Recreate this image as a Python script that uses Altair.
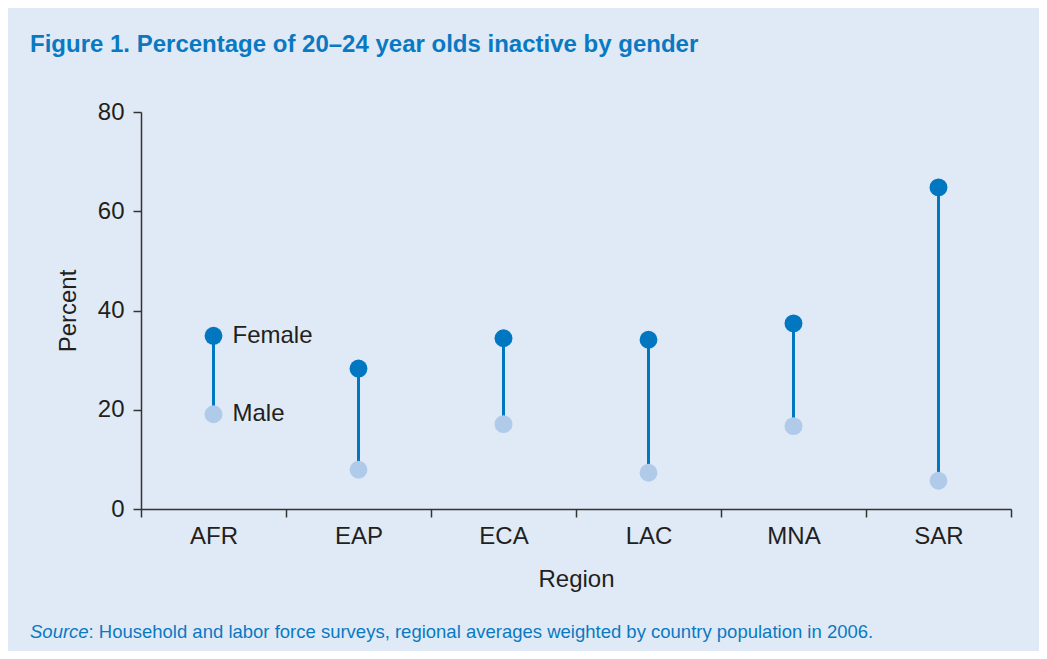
import altair as alt
import pandas as pd

regions = ["AFR", "EAP", "ECA", "LAC", "MNA", "SAR"]
female = [34.9, 28.3, 34.4, 34.1, 37.4, 64.8]
male = [19.1, 7.9, 17.1, 7.3, 16.7, 5.7]
y_ticks = [0, 20, 40, 60, 80]

title_text = "Figure 1. Percentage of 20\u201324 year olds inactive by gender"
source_label = "Source"
source_text = ": Household and labor force surveys, regional averages weighted by country population in 2006."

FONT = "Liberation Sans"
BLUE = "#0a79c2"
FEMALE_C = "#0077c0"
MALE_C = "#b0caea"
AXIS_C = "#333333"
TEXT_C = "#231f20"
BG = "#e0eaf6"
FS = 24

wide = pd.DataFrame({"Region": regions, "Female": female, "Male": male})
long = wide.melt(id_vars="Region", var_name="Gender", value_name="Percent")

x_enc = alt.X(
    "Region:N",
    sort=regions,
    scale=alt.Scale(paddingInner=0, paddingOuter=0),
    axis=alt.Axis(
        title="Region",
        tickBand="extent",
        labelAngle=0,
        tickSize=8,
        labelPadding=7,
        titlePadding=19,
        labelFontSize=FS,
        titleFontSize=FS,
        titleFontWeight="normal",
        labelFont=FONT,
        titleFont=FONT,
        labelColor=TEXT_C,
        titleColor=TEXT_C,
        domainColor=AXIS_C,
        tickColor=AXIS_C,
        domainWidth=1.5,
        tickWidth=1.5,
        grid=False,
    ),
)

y_axis = alt.Axis(
    title="Percent",
    values=y_ticks,
    tickSize=8,
    labelPadding=9,
    titlePadding=17,
    labelFontSize=FS,
    titleFontSize=FS,
    titleFontWeight="normal",
    labelFont=FONT,
    titleFont=FONT,
    labelColor=TEXT_C,
    titleColor=TEXT_C,
    domainColor=AXIS_C,
    tickColor=AXIS_C,
    domainWidth=1.5,
    tickWidth=1.5,
    grid=False,
)
y_scale = alt.Scale(domain=[0, 80], nice=False)

rules = alt.Chart(wide).mark_rule(color=FEMALE_C, strokeWidth=3).encode(
    x=x_enc,
    y=alt.Y("Male:Q", scale=y_scale, axis=y_axis, title="Percent"),
    y2="Female:Q",
)

points = alt.Chart(long).mark_circle(size=320, opacity=1).encode(
    x=x_enc,
    y=alt.Y("Percent:Q", scale=y_scale, axis=y_axis, title="Percent"),
    color=alt.Color(
        "Gender:N",
        scale=alt.Scale(domain=["Female", "Male"], range=[FEMALE_C, MALE_C]),
        legend=None,
    ),
)

labels = (
    alt.Chart(long)
    .transform_filter(alt.datum.Region == "AFR")
    .mark_text(align="left", baseline="middle", dx=19, fontSize=FS, font=FONT, color=TEXT_C)
    .encode(
        x=x_enc,
        y=alt.Y("Percent:Q", scale=y_scale, axis=y_axis, title="Percent"),
        text="Gender:N",
    )
)

title = alt.Chart(pd.DataFrame({"t": [title_text]})).mark_text(
    align="left", baseline="alphabetic", fontSize=24, fontWeight="bold", font=FONT, color=BLUE
).encode(text="t:N", x=alt.value(-111), y=alt.value(-60))

src1 = alt.Chart(pd.DataFrame({"t": [source_label]})).mark_text(
    align="left", baseline="alphabetic", fontSize=18.5, fontStyle="italic", font=FONT, color=BLUE
).encode(text="t:N", x=alt.value(-111), y=alt.value(526))

src2 = alt.Chart(pd.DataFrame({"t": [source_text]})).mark_text(
    align="left", baseline="alphabetic", fontSize=18.5, font=FONT, color=BLUE
).encode(text="t:N", x=alt.value(-52.5), y=alt.value(526))

chart = (
    alt.layer(rules, points, labels, title, src1, src2)
    .properties(
        width=870,
        height=397,
        autosize=alt.AutoSizeParams(type="none"),
        padding={"left": 133, "top": 104, "right": 28, "bottom": 142},
        background=BG,
    )
    .configure_view(stroke=None)
)

chart.save("out.html", embed_options={"renderer": "svg", "actions": False})
